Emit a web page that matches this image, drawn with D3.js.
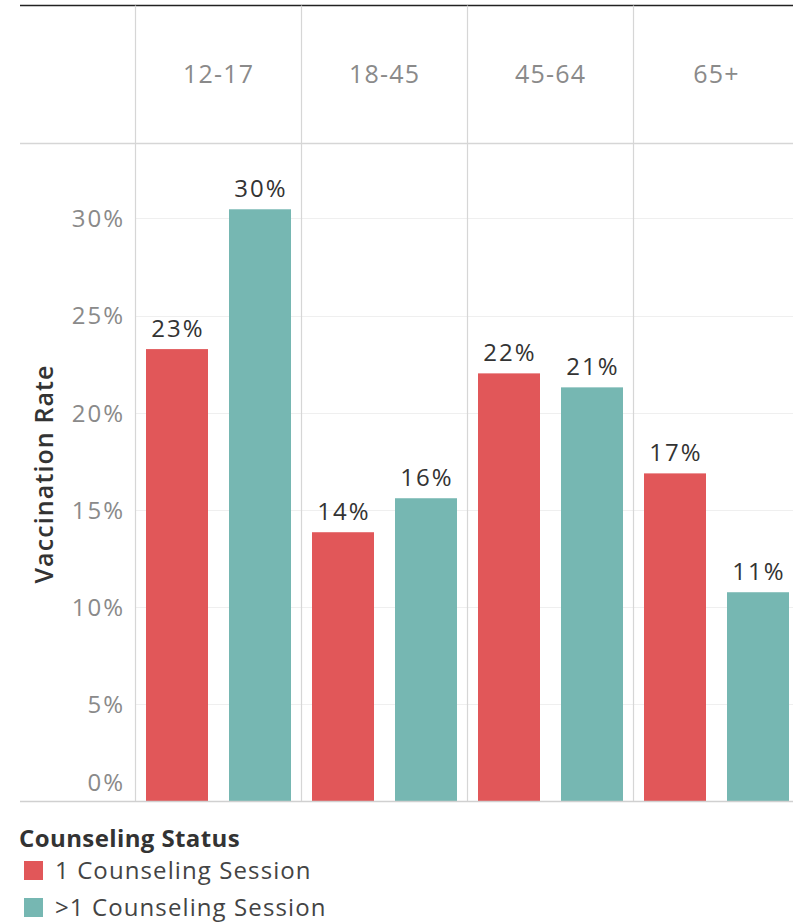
<!DOCTYPE html>
<html>
<head>
<meta charset="utf-8">
<script src="https://cdn.jsdelivr.net/npm/d3@7"></script>
<style>
  html, body { margin: 0; padding: 0; background: #fff; }
  svg { display: block; font-family: "Open Sans", sans-serif; }
</style>
</head>
<body>
<svg id="chart" width="793" height="922"></svg>
<script>
const ageGroups = ["12-17", "18-45", "45-64", "65+"];
const seriesNames = ["1 Counseling Session", ">1 Counseling Session"];
const oneSession = [0.2327, 0.1384, 0.2202, 0.1687];
const multiSession = [0.3047, 0.1559, 0.2130, 0.1075];
const barLabels1 = ["23%", "14%", "22%", "17%"];
const barLabels2 = ["30%", "16%", "21%", "11%"];
const yTicks = [0, 0.05, 0.10, 0.15, 0.20, 0.25, 0.30];
const colors = ["#e15759", "#76b7b2"];
const legendTitle = "Counseling Status";
const yTitle = "Vaccination Rate";

const data = ageGroups.map((g, i) => ({
  group: g,
  values: [
    { series: seriesNames[0], value: oneSession[i], label: barLabels1[i] },
    { series: seriesNames[1], value: multiSession[i], label: barLabels2[i] }
  ]
}));

const svg = d3.select("#chart");
const panelLeft = 135, panelW = 166;
const baseY = 801, topLine = 5.5, headerLine = 143.5;

const x0 = d3.scaleBand().domain(ageGroups).range([panelLeft, panelLeft + panelW * ageGroups.length]).padding(0);
const x1 = d3.scaleBand().domain(seriesNames).range([11, 156]).paddingInner(21 / 83).paddingOuter(0);
const y = d3.scaleLinear().domain([0, 0.35]).range([baseY, baseY - 0.35 * 1942]);
const color = d3.scaleOrdinal().domain(seriesNames).range(colors);

// gridlines
svg.append("g").selectAll("line").data(yTicks.filter(d => d > 0)).join("line")
  .attr("x1", panelLeft).attr("x2", 793)
  .attr("y1", d => Math.round(y(d)) + 0.5).attr("y2", d => Math.round(y(d)) + 0.5)
  .attr("stroke", "#efefef").attr("stroke-width", 1);

// top line
svg.append("line").attr("x1", 20).attr("x2", 793).attr("y1", topLine).attr("y2", topLine)
  .attr("stroke", "#222").attr("stroke-width", 1.5);
// header bottom line
svg.append("line").attr("x1", 20).attr("x2", 793).attr("y1", headerLine).attr("y2", headerLine)
  .attr("stroke", "#d6d6d6").attr("stroke-width", 1.5);

// vertical panel dividers
svg.append("g").selectAll("line").data(ageGroups).join("line")
  .attr("x1", d => x0(d) + 0.5).attr("x2", d => x0(d) + 0.5)
  .attr("y1", topLine).attr("y2", baseY)
  .attr("stroke", "#d6d6d6").attr("stroke-width", 1.2);

// header labels
svg.append("g").selectAll("text").data(ageGroups).join("text")
  .attr("x", d => x0(d) + x0.bandwidth() / 2 + 0.6)
  .attr("y", 74).attr("dy", "0.35em")
  .attr("text-anchor", "middle")
  .attr("font-size", 25).attr("letter-spacing", 1.2).attr("fill", "#8a8a8a")
  .text(d => d);

// bars
const groups = svg.append("g").selectAll("g").data(data).join("g")
  .attr("transform", d => `translate(${x0(d.group)},0)`);

groups.selectAll("rect").data(d => d.values).join("rect")
  .attr("x", d => x1(d.series))
  .attr("width", x1.bandwidth())
  .attr("y", d => y(d.value))
  .attr("height", d => y(0) - y(d.value))
  .attr("fill", d => color(d.series));

groups.selectAll("text").data(d => d.values).join("text")
  .attr("x", d => x1(d.series) + x1.bandwidth() / 2 + 1)
  .attr("y", d => y(d.value) - 12)
  .attr("text-anchor", "middle")
  .attr("font-size", 24).attr("letter-spacing", 2).attr("fill", "#333")
  .text(d => d.label);

// baseline
svg.append("line").attr("x1", 20).attr("x2", 793).attr("y1", baseY + 0.5).attr("y2", baseY + 0.5)
  .attr("stroke", "#d0d0d0").attr("stroke-width", 1.5);

// y axis
const yAxis = d3.axisLeft(y).tickValues(yTicks).tickFormat(d3.format(".0%")).tickSize(0).tickPadding(0);
const ax = svg.append("g").attr("transform", "translate(125,0)").call(yAxis);
ax.select(".domain").remove();
ax.selectAll("text")
  .attr("font-family", "Open Sans, sans-serif")
  .attr("font-size", 24).attr("letter-spacing", 2).attr("fill", "#8a8a8a")
  .attr("dy", d => d === 0 ? "-0.45em" : "0.35em");

// y title
svg.append("text")
  .attr("transform", "translate(44,474) rotate(-90)")
  .attr("text-anchor", "middle").attr("dy", "0.35em")
  .attr("font-size", 25).attr("font-weight", 600).attr("letter-spacing", 1.1).attr("fill", "#333")
  .text(yTitle);

// legend
svg.append("text").attr("x", 19).attr("y", 847)
  .attr("font-size", 24).attr("font-weight", 700).attr("letter-spacing", 0.4).attr("fill", "#333")
  .text(legendTitle);

const leg = svg.append("g").selectAll("g").data(seriesNames).join("g")
  .attr("transform", (d, i) => `translate(24,${861 + i * 37})`);
leg.append("rect").attr("width", 19).attr("height", 19).attr("fill", d => color(d));
leg.append("text").attr("x", 31).attr("y", 9.5).attr("dy", "0.36em")
  .attr("font-size", 24).attr("letter-spacing", 1.1).attr("fill", "#444")
  .text(d => d);
</script>
</body>
</html>
